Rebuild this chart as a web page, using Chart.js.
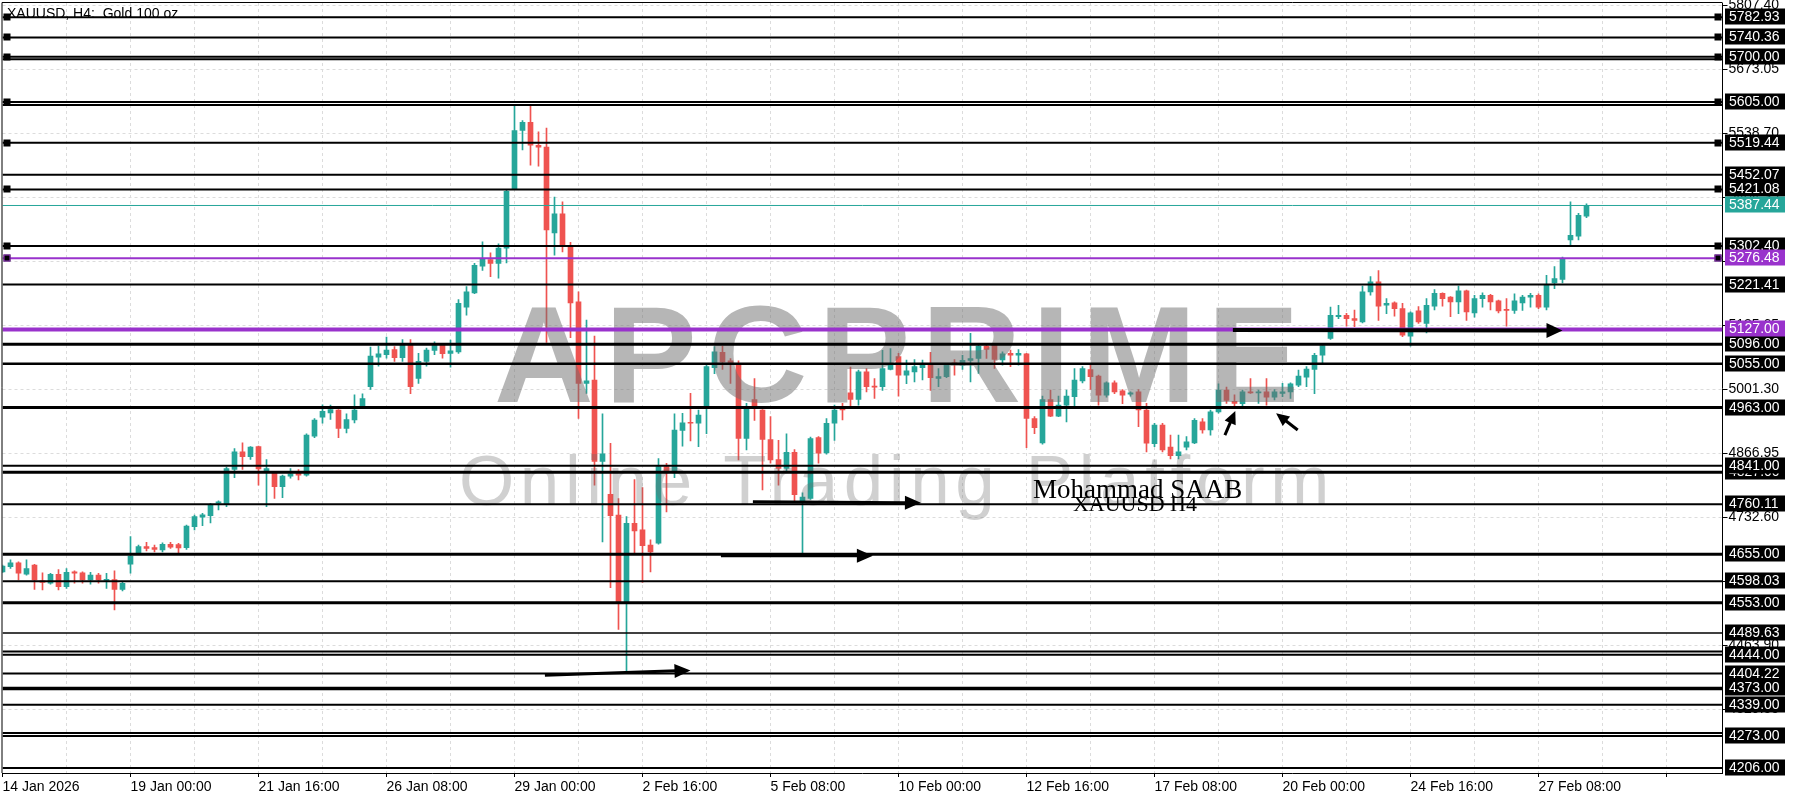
<!DOCTYPE html>
<html>
<head>
<meta charset="utf-8">
<script src="https://cdn.jsdelivr.net/npm/chart.js@4.4.1/dist/chart.umd.min.js"></script>
<style>
  html, body { margin: 0; padding: 0; background: #fff; }
  #chart { display: block; }
</style>
</head>
<body>
<canvas id="chart" width="1800" height="800"></canvas>
<script>
// ---------- XAUUSD H4 data ----------
const timeLabels = ["14 Jan 2026", "19 Jan 00:00", "21 Jan 16:00", "26 Jan 08:00", "29 Jan 00:00",
  "2 Feb 16:00", "5 Feb 08:00", "10 Feb 00:00", "12 Feb 16:00", "17 Feb 08:00",
  "20 Feb 00:00", "24 Feb 16:00", "27 Feb 08:00"];

const opens = [
  4618, 4629, 4637, 4613, 4632, 4599, 4594, 4613, 4587, 4618,
  4616, 4601, 4611, 4600, 4602, 4581, 4634, 4658, 4671, 4669,
  4664, 4676, 4675, 4669, 4713, 4733, 4736, 4762, 4760, 4833,
  4870, 4860, 4881, 4830, 4826, 4797, 4819, 4825, 4821, 4903,
  4943, 4952, 4958, 4919, 4937, 4966, 5007, 5069, 5074, 5085,
  5068, 5094, 5024, 5060, 5083, 5094, 5077, 5080, 5174, 5204,
  5260, 5274, 5266, 5298, 5423, 5545, 5562, 5514, 5510, 5330,
  5370, 5300, 5185, 5014, 5021, 4850, 4781, 4737, 4555, 4720,
  4706, 4674, 4678, 4839, 4826, 4915, 4932, 4930, 4967, 5047,
  5079, 5061, 5056, 4898, 4980, 4958, 4896, 4854, 4835, 4869,
  4766, 4772, 4900, 4868, 4930, 4961, 4994, 4980, 5038, 5008,
  5007, 5043, 5070, 5031, 5038, 5047, 5052, 5024, 5028, 5057,
  5052, 5062, 5066, 5092, 5094, 5063, 5077, 5073, 5076, 4940,
  4889, 4980, 4945, 4968, 4986, 5019, 5043, 5029, 4989, 5015,
  4998, 4991, 4996, 4958, 4887, 4926, 4880, 4862, 4880, 4889,
  4933, 4916, 4954, 5000, 4976, 4971, 4996, 4994, 4996, 4985,
  4993, 4996, 5010, 5027, 5043, 5073, 5108, 5154, 5157, 5150,
  5143, 5206, 5227, 5178, 5183, 5171, 5113, 5166, 5140, 5176,
  5203, 5195, 5185, 5208, 5162, 5192, 5199, 5187, 5168, 5167,
  5183, 5195, 5199, 5174, 5225, 5232, 5315, 5323, 5365];

const highs = [
  4632, 4643, 4639, 4643, 4634, 4616, 4615, 4623, 4625, 4620,
  4618, 4617, 4615, 4615, 4620, 4596, 4692, 4674, 4680, 4674,
  4679, 4680, 4678, 4716, 4737, 4741, 4762, 4767, 4838, 4877,
  4889, 4881, 4882, 4854, 4828, 4821, 4835, 4833, 4908, 4940,
  4969, 4968, 4959, 4950, 4990, 4992, 5090, 5092, 5111, 5091,
  5106, 5106, 5077, 5088, 5101, 5098, 5105, 5190, 5217, 5266,
  5311, 5288, 5307, 5421, 5598, 5566, 5596, 5542, 5550, 5405,
  5395, 5310, 5206, 5147, 5113, 4950, 4888, 4772, 4734, 4812,
  4795, 4685, 4856, 4846, 4950, 4951, 4993, 4958, 5052, 5091,
  5092, 5066, 5061, 4972, 5024, 4959, 4944, 4894, 4908, 4875,
  4784, 4901, 4902, 4940, 4968, 4972, 5048, 5042, 5045, 5024,
  5083, 5087, 5077, 5063, 5064, 5063, 5079, 5045, 5056, 5064,
  5073, 5119, 5097, 5094, 5097, 5080, 5084, 5085, 5077, 4944,
  4987, 5000, 4987, 5000, 5045, 5049, 5052, 5031, 5017, 5019,
  5001, 4996, 5001, 4972, 4930, 4930, 4905, 4905, 4902, 4940,
  4940, 4958, 5013, 5006, 4990, 5000, 5024, 5000, 5024, 5001,
  5014, 5015, 5042, 5049, 5077, 5094, 5174, 5178, 5161, 5168,
  5218, 5238, 5251, 5192, 5185, 5182, 5164, 5175, 5192, 5211,
  5204, 5196, 5218, 5210, 5199, 5204, 5201, 5189, 5192, 5202,
  5199, 5203, 5202, 5241, 5259, 5279, 5395, 5371, 5391];

const lows = [
  4616, 4625, 4601, 4611, 4581, 4580, 4592, 4580, 4583, 4594,
  4594, 4592, 4594, 4583, 4538, 4578, 4615, 4657, 4662, 4660,
  4660, 4667, 4658, 4665, 4706, 4715, 4721, 4748, 4755, 4816,
  4833, 4854, 4800, 4755, 4772, 4774, 4815, 4811, 4819, 4900,
  4930, 4938, 4900, 4910, 4931, 4965, 5001, 5050, 5067, 5060,
  5060, 4992, 5014, 5050, 5074, 5067, 5048, 5077, 5157, 5202,
  5251, 5238, 5235, 5267, 5421, 5504, 5472, 5470, 5100, 5283,
  5290, 5110, 4940, 4993, 4800, 4681, 4585, 4497, 4408, 4657,
  4596, 4618, 4676, 4744, 4816, 4882, 4893, 4881, 4908, 5034,
  5043, 5014, 4853, 4874, 4936, 4790, 4846, 4800, 4828, 4765,
  4656, 4770, 4846, 4865, 4894, 4937, 4965, 4968, 4996, 4982,
  4999, 5042, 4987, 5013, 5017, 5021, 4999, 5007, 5026, 5031,
  5043, 5017, 5035, 5066, 5045, 5052, 5049, 5052, 4879, 4908,
  4886, 4944, 4944, 4933, 4966, 5015, 5001, 4968, 4985, 4992,
  4971, 4987, 4923, 4870, 4881, 4870, 4855, 4855, 4874, 4887,
  4909, 4905, 4951, 4972, 4965, 4965, 4993, 4972, 4968, 4979,
  4986, 4982, 5007, 5007, 4992, 5056, 5106, 5150, 5134, 5133,
  5141, 5199, 5146, 5160, 5155, 5112, 5092, 5140, 5120, 5168,
  5176, 5154, 5160, 5146, 5153, 5174, 5168, 5162, 5134, 5161,
  5167, 5174, 5171, 5168, 5213, 5225, 5304, 5315, 5362];

const closes = [
  4630, 4637, 4615, 4625, 4601, 4596, 4613, 4587, 4617, 4615,
  4601, 4611, 4601, 4602, 4581, 4594, 4651, 4671, 4667, 4665,
  4676, 4670, 4668, 4714, 4734, 4738, 4758, 4765, 4835, 4870,
  4860, 4880, 4834, 4835, 4797, 4819, 4824, 4821, 4905, 4937,
  4955, 4959, 4919, 4938, 4958, 4982, 5071, 5076, 5084, 5068,
  5094, 5007, 5060, 5084, 5094, 5076, 5082, 5182, 5206, 5262,
  5276, 5266, 5298, 5417, 5545, 5562, 5514, 5510, 5336, 5370,
  5305, 5183, 5014, 5019, 4850, 4866, 4736, 4555, 4720, 4704,
  4673, 4660, 4839, 4826, 4916, 4931, 4930, 4947, 5049, 5080,
  5059, 5056, 4898, 4961, 4965, 4896, 4853, 4835, 4869, 4780,
  4775, 4898, 4867, 4930, 4958, 4958, 4980, 5038, 5007, 5006,
  5045, 5052, 5031, 5040, 5049, 5052, 5026, 5028, 5052, 5055,
  5062, 5066, 5092, 5085, 5064, 5076, 5073, 5077, 4940, 4921,
  4980, 4945, 4968, 4987, 5021, 5045, 5028, 4989, 5015, 4996,
  4989, 4994, 4958, 4888, 4926, 4874, 4862, 4870, 4891, 4936,
  4916, 4954, 5000, 4978, 4972, 4996, 4994, 4996, 4985, 4996,
  4996, 5013, 5029, 5044, 5073, 5093, 5157, 5157, 5150, 5146,
  5206, 5227, 5176, 5182, 5171, 5115, 5162, 5143, 5178, 5203,
  5192, 5185, 5208, 5164, 5192, 5199, 5185, 5166, 5167, 5187,
  5195, 5199, 5174, 5220, 5234, 5276, 5325, 5367, 5388];

// price scale ticks (right axis)
const yTicks = [5807.40, 5673.05, 5538.70, 5404.35, 5270.00, 5135.65, 5001.30,
  4866.95, 4732.60, 4598.25, 4463.90, 4329.55];

// horizontal levels drawn on the chart
const levelPrices = [5782.93, 5740.36, 5700.00, 5694.50, 5605.00, 5598.50, 5519.44, 5452.07,
  5421.08, 5302.40, 5221.41, 5096.00, 5055.00, 4963.00, 4841.00, 4827.00, 4760.11, 4655.00,
  4598.03, 4553.00, 4489.63, 4450.50, 4444.00, 4404.22, 4373.00, 4339.00, 4279.50, 4273.00, 4206.00];
const purpleLevels = [5276.48, 5127.00];
const bidPrice = 5387.44;

// styles of the levels (same order as levelPrices)
const levelWidths = [2, 2, 2, 2, 2, 2, 2, 2, 2, 2, 2, 3, 2.5, 3, 2, 3, 2, 3, 2, 3, 1.5, 2, 2, 2, 3.5, 2, 2, 2, 2];
const levelSquares = [1, 1, 1, 0, 1, 0, 1, 0, 1, 1, 0, 0, 0, 0, 0, 0, 0, 0, 0, 0, 0, 0, 0, 0, 0, 0, 0, 0, 0];
const levelTagged = [1, 1, 1, 0, 1, 0, 1, 1, 1, 1, 1, 1, 1, 1, 1, 1, 1, 1, 1, 1, 1, 0, 1, 1, 1, 1, 0, 1, 1];
const purpleWidths = [2, 4];

// drawn arrows [barFrom, priceFrom, barTo, priceTo]
const arrowPaths = [
  [67.8, 4401, 86.0, 4411],
  [89.8, 4652, 108.8, 4652],
  [93.8, 4765, 114.8, 4763],
  [153.8, 5126, 195.0, 5125],
  [152.8, 4905, 154.1, 4956],
  [161.9, 4916, 159.2, 4951]
];

const UP = "#26a69a";
const DOWN = "#ef5350";
const PURPLE = "#9932cc";
const GRID = "#dcdcdc";
const FONT = '"Liberation Sans", Arial, sans-serif';

// ---------- build ----------
const SLOTS = 216; // bar slots across the chart (incl. empty right shift)
const xLabels = Array.from({ length: SLOTS }, (_, i) =>
  i % 16 === 0 && timeLabels[i / 16] ? timeLabels[i / 16] : "");
const bodyData = opens.map((o, i) => [o, closes[i]]);
const wickData = lows.map((l, i) => [l, highs[i]]);
const candleColors = opens.map((o, i) => (closes[i] >= o ? UP : DOWN));

function drawArrow(ctx, x1, y1, x2, y2, w, len, half) {
  const a = Math.atan2(y2 - y1, x2 - x1);
  const bx = x2 - Math.cos(a) * len, by = y2 - Math.sin(a) * len;
  ctx.lineWidth = w;
  ctx.beginPath();
  ctx.moveTo(x1, y1);
  ctx.lineTo(bx + Math.cos(a) * 2, by + Math.sin(a) * 2);
  ctx.stroke();
  ctx.beginPath();
  ctx.moveTo(x2, y2);
  ctx.lineTo(bx - Math.sin(a) * half, by + Math.cos(a) * half);
  ctx.lineTo(bx + Math.sin(a) * half, by - Math.cos(a) * half);
  ctx.closePath();
  ctx.fill();
}

const overlay = {
  id: "overlay",
  afterDraw(chart) {
    const { ctx, chartArea: area } = chart;
    const xs = chart.scales.x, ys = chart.scales.y;
    const py = (p) => ys.getPixelForValue(p);
    const px = (i) => xs.getPixelForValue(i);

    ctx.save();
    ctx.beginPath();
    ctx.rect(area.left, area.top, area.right - area.left, area.bottom - area.top);
    ctx.clip();

    // watermark
    ctx.textBaseline = "alphabetic";
    ctx.textAlign = "left";
    ctx.fillStyle = "rgba(110,110,110,0.5)";
    ctx.font = "bold 138px " + FONT;
    ctx.letterSpacing = "11px";
    ctx.fillText("APCPRIME", 494, 402);
    ctx.fillStyle = "rgba(110,110,110,0.32)";
    ctx.font = "71px " + FONT;
    ctx.letterSpacing = "5.6px";
    ctx.fillText("Online Trading Platform", 459, 505);
    ctx.letterSpacing = "0px";

    // symbol title
    ctx.fillStyle = "#000";
    ctx.font = "14px " + FONT;
    ctx.fillText("XAUUSD, H4:  Gold 100 oz", 7, 18);

    // levels
    const hline = (p, color, w) => {
      const y = py(p);
      ctx.strokeStyle = color;
      ctx.lineWidth = w;
      ctx.beginPath();
      ctx.moveTo(area.left, y);
      ctx.lineTo(area.right, y);
      ctx.stroke();
    };
    levelPrices.forEach((p, k) => hline(p, "#000", levelWidths[k]));
    hline(bidPrice, UP, 1);
    purpleLevels.forEach((p, k) => hline(p, PURPLE, purpleWidths[k]));

    // anchor squares
    const square = (p, fill, stroke) => {
      const y = Math.round(py(p));
      [area.left + 1, area.right - 8].forEach((x0) => {
        ctx.fillStyle = fill;
        ctx.fillRect(x0, y - 3.5, 7, 7);
        if (stroke) {
          ctx.strokeStyle = stroke;
          ctx.lineWidth = 1;
          ctx.strokeRect(x0 + 0.5, y - 3, 6, 6);
        }
      });
    };
    levelPrices.forEach((p, k) => { if (levelSquares[k]) square(p, "#000"); });
    square(purpleLevels[0], "#000", PURPLE);

    // arrows
    ctx.strokeStyle = "#000";
    ctx.fillStyle = "#000";
    arrowPaths.forEach(([i1, p1, i2, p2], k) => {
      const big = k === 3;
      const small = k >= 4;
      drawArrow(ctx, px(i1), py(p1), px(i2), py(p2),
        big ? 4 : 3, small ? 13 : 16, small ? 6 : big ? 7.5 : 7);
    });

    // author notes
    ctx.fillStyle = "#000";
    ctx.font = '27px "Liberation Serif", serif';
    ctx.fillText("Mohammad SAAB", px(128.8), py(4773));
    ctx.font = '22px "Liberation Serif", serif';
    ctx.fillText("XAUUSD H4", px(133.8), py(4746));
    ctx.restore();

    // frame (left / top)
    ctx.save();
    ctx.strokeStyle = "#000";
    ctx.lineWidth = 1;
    ctx.beginPath();
    ctx.moveTo(area.left - 0.5, area.bottom);
    ctx.lineTo(area.left - 0.5, area.top - 0.5);
    ctx.lineTo(area.right, area.top - 0.5);
    ctx.stroke();

    // price tags on the right axis
    const tag = (p, bg, fg) => {
      const y = Math.round(py(p));
      ctx.fillStyle = bg;
      ctx.fillRect(area.right + 2.5, y - 8.5, 60, 16);
      ctx.fillStyle = fg;
      ctx.font = "14px " + FONT;
      ctx.textBaseline = "middle";
      ctx.textAlign = "left";
      ctx.fillText(p.toFixed(2), area.right + 6.5, y + 0.5);
    };
    const tagged = levelPrices.filter((p, k) => levelTagged[k]).sort((a, b) => a - b);
    tagged.forEach((p) => tag(p, "#000", "#fff"));
    tag(bidPrice, UP, "#fff");
    purpleLevels.forEach((p) => tag(p, PURPLE, "#fff"));
    ctx.restore();
  }
};

new Chart(document.getElementById("chart"), {
  type: "bar",
  data: {
    labels: xLabels,
    datasets: [
      {
        label: "body",
        data: bodyData,
        backgroundColor: candleColors,
        borderWidth: 0,
        barThickness: 5,
        minBarLength: 1,
        grouped: false
      },
      {
        label: "wick",
        data: wickData,
        backgroundColor: candleColors,
        borderWidth: 0,
        barThickness: 1,
        grouped: false
      }
    ]
  },
  options: {
    responsive: false,
    animation: false,
    devicePixelRatio: 1,
    events: [],
    layout: { padding: { left: 2.5, top: 3, right: 0, bottom: 0 } },
    plugins: { legend: { display: false }, tooltip: { enabled: false } },
    scales: {
      x: {
        type: "category",
        offset: false,
        grid: {
          offset: false,
          color: (c) => (c.index % 8 === 0 && c.index > 0 ? GRID : "rgba(0,0,0,0)"),
          tickColor: (c) => (c.index % 16 === 0 ? "#000" : "rgba(0,0,0,0)"),
          tickLength: 4,
          tickBorderDash: []
        },
        border: { color: "#000", width: 1, dash: [3, 3] },
        ticks: {
          autoSkip: false,
          maxRotation: 0,
          minRotation: 0,
          align: "start",
          padding: 2,
          color: "#000",
          font: { family: FONT, size: 14 },
          callback: (v, i) => xLabels[i]
        },
        afterFit: (s) => {
          s.height = 27;
          s.paddingLeft = 0;
          s.paddingRight = 0;
        }
      },
      y: {
        position: "right",
        min: 4195.5,
        max: 5812.75,
        afterBuildTicks: (s) => { s.ticks = yTicks.map((v) => ({ value: v })); },
        grid: { color: GRID, tickColor: "#000", tickLength: 5, tickBorderDash: [] },
        border: { color: "#000", width: 1, dash: [3, 3] },
        ticks: {
          padding: 1,
          color: "#000",
          font: { family: FONT, size: 14 },
          callback: (v) => Number(v).toFixed(2)
        },
        afterFit: (s) => {
          s.width = 77.5;
          s.paddingTop = 0;
          s.paddingBottom = 0;
        }
      }
    }
  },
  plugins: [overlay]
});
</script>
</body>
</html>
